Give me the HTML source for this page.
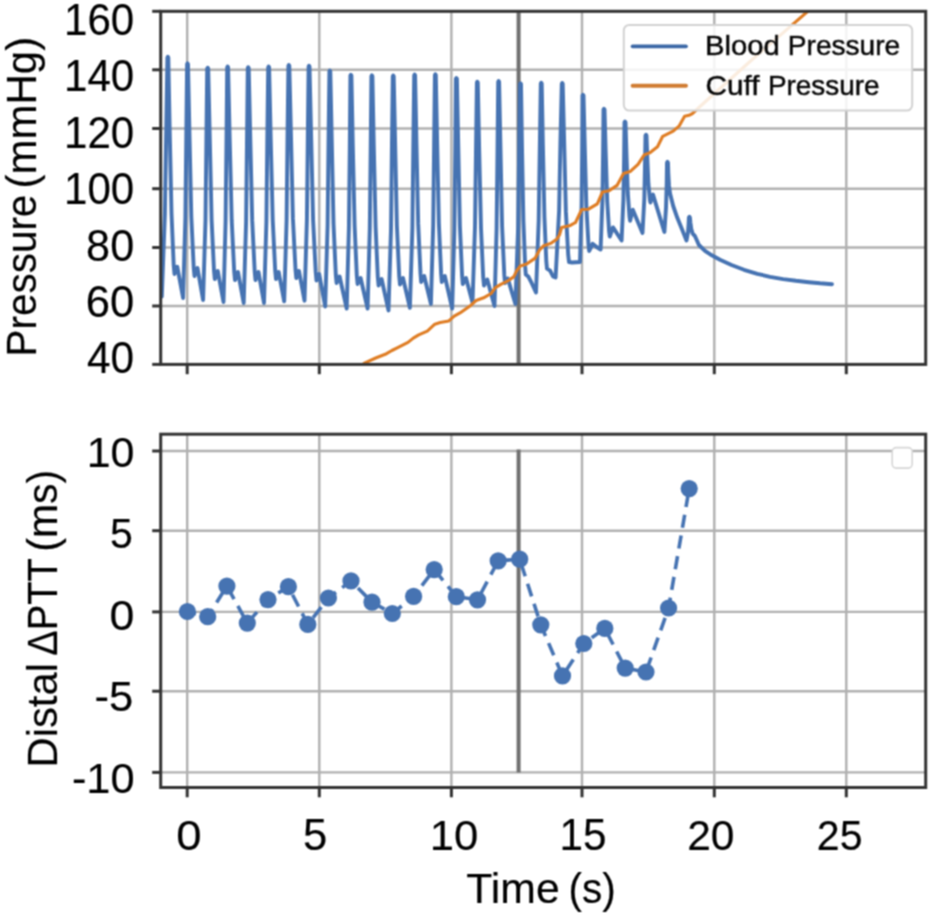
<!DOCTYPE html>
<html><head><meta charset="utf-8"><style>
html,body{margin:0;padding:0;background:#fff;width:931px;height:915px;overflow:hidden}
svg{display:block}
text{font-family:"Liberation Sans",sans-serif;fill:#000}
</style></head><body>
<svg width="931" height="915" viewBox="0 0 931 915">
<rect width="931" height="915" fill="#fff"/>
<defs>
<clipPath id="c1"><rect x="160.7" y="11.3" width="765.0" height="353.1"/></clipPath>
<clipPath id="c2"><rect x="160.7" y="434.2" width="765.0" height="353.3"/></clipPath>
<filter id="bl" x="0" y="0" width="931" height="915" filterUnits="userSpaceOnUse" color-interpolation-filters="sRGB"><feConvolveMatrix order="3" kernelMatrix="1 2 1 2 4 2 1 2 1" divisor="16" edgeMode="duplicate"/></filter>
</defs>
<g filter="url(#bl)">
<rect width="931" height="915" fill="#fff"/>
<g stroke="#b0b0b0" stroke-width="2.4"><line x1="187.2" y1="11.3" x2="187.2" y2="364.4"/><line x1="187.2" y1="434.2" x2="187.2" y2="787.5"/><line x1="319.3" y1="11.3" x2="319.3" y2="364.4"/><line x1="319.3" y1="434.2" x2="319.3" y2="787.5"/><line x1="451.4" y1="11.3" x2="451.4" y2="364.4"/><line x1="451.4" y1="434.2" x2="451.4" y2="787.5"/><line x1="582.0" y1="11.3" x2="582.0" y2="364.4"/><line x1="582.0" y1="434.2" x2="582.0" y2="787.5"/><line x1="714.3" y1="11.3" x2="714.3" y2="364.4"/><line x1="714.3" y1="434.2" x2="714.3" y2="787.5"/><line x1="846.3" y1="11.3" x2="846.3" y2="364.4"/><line x1="846.3" y1="434.2" x2="846.3" y2="787.5"/><line x1="160.7" y1="364.4" x2="925.7" y2="364.4"/><line x1="160.7" y1="306.0" x2="925.7" y2="306.0"/><line x1="160.7" y1="247.5" x2="925.7" y2="247.5"/><line x1="160.7" y1="188.7" x2="925.7" y2="188.7"/><line x1="160.7" y1="128.5" x2="925.7" y2="128.5"/><line x1="160.7" y1="69.8" x2="925.7" y2="69.8"/><line x1="160.7" y1="11.3" x2="925.7" y2="11.3"/><line x1="160.7" y1="772.4" x2="925.7" y2="772.4"/><line x1="160.7" y1="691.2" x2="925.7" y2="691.2"/><line x1="160.7" y1="611.9" x2="925.7" y2="611.9"/><line x1="160.7" y1="530.7" x2="925.7" y2="530.7"/><line x1="160.7" y1="451.0" x2="925.7" y2="451.0"/></g>
<line x1="518.6" y1="11.3" x2="518.6" y2="364.4" stroke="#707070" stroke-width="4.0"/>
<line x1="518.6" y1="449.4" x2="518.6" y2="772.4" stroke="#707070" stroke-width="4.0"/>
<g clip-path="url(#c1)" fill="none" stroke-linejoin="round" stroke-linecap="round"><polyline points="161.8,296.5 164.9,214.0 166.2,131.1 167.4,57.6 167.8,56.8 168.3,57.6 169.7,130.6 171.5,213.2 173.7,265.3 174.5,274.0 177.3,266.8 183.1,298.0 185.4,217.3 186.3,136.1 187.1,64.2 187.5,63.4 188.0,64.2 189.5,135.7 191.3,216.5 193.7,267.5 194.5,276.0 197.5,268.0 203.1,300.0 205.5,220.1 206.4,139.7 207.2,68.5 207.7,67.7 208.2,68.5 209.8,139.5 211.6,219.8 214.0,270.5 214.8,279.0 217.8,271.0 223.5,302.0 225.6,221.0 226.5,139.6 227.2,67.4 227.6,66.6 228.1,67.4 229.7,139.2 231.7,220.2 234.2,271.5 235.0,280.0 238.0,272.0 243.7,303.0 246.1,221.9 247.0,140.3 247.8,68.0 248.2,67.2 248.7,68.0 250.3,139.6 252.2,220.4 254.7,271.5 255.5,280.0 258.5,272.0 264.0,303.0 266.4,221.7 267.3,139.9 268.2,67.4 268.6,66.6 269.1,67.4 270.7,138.8 272.7,219.5 275.2,270.5 276.0,279.0 278.7,272.0 284.2,301.3 286.6,220.0 287.5,138.3 288.4,65.8 288.8,65.0 289.3,65.8 291.0,137.4 292.9,218.4 295.5,269.5 296.3,278.0 299.0,271.0 304.5,300.7 306.9,219.9 307.8,138.6 308.6,66.6 309.0,65.8 309.5,66.6 311.2,138.8 313.1,220.4 315.7,271.9 316.5,280.5 319.2,274.0 325.2,306.5 327.6,225.3 328.5,143.7 329.4,71.3 329.8,70.5 330.3,71.3 331.8,142.8 333.5,223.5 335.8,274.5 336.6,283.0 339.6,276.5 346.7,308.5 348.9,228.1 349.8,147.2 350.4,75.6 350.9,74.8 351.4,75.6 352.8,145.9 354.6,225.4 356.8,275.6 357.6,284.0 360.6,278.0 367.6,308.5 369.8,228.3 370.7,147.7 371.4,76.2 371.9,75.4 372.4,76.2 373.8,146.8 375.6,226.7 377.8,277.1 378.6,285.5 381.6,279.0 388.5,310.4 391.0,229.6 391.9,148.4 392.8,76.4 393.2,75.6 393.7,76.4 395.2,146.6 396.9,226.0 399.2,276.1 400.0,284.5 403.0,278.0 409.9,307.8 412.4,227.5 413.3,146.8 414.2,75.3 414.6,74.5 415.1,75.3 416.5,145.1 418.2,223.9 420.5,273.7 421.2,282.0 424.2,276.0 430.9,303.9 433.2,224.9 434.1,145.5 434.9,75.1 435.3,74.3 435.8,75.1 437.2,144.9 438.9,223.8 441.1,273.7 441.8,282.0 444.8,276.0 452.2,308.5 454.4,229.2 455.3,149.5 455.9,78.9 456.4,78.1 456.9,78.9 458.3,148.1 459.9,226.3 462.1,275.8 462.8,284.0 466.0,278.0 472.5,302.5 475.0,226.5 476.0,150.1 476.9,82.5 477.3,81.7 477.8,82.5 479.2,151.0 481.0,228.4 483.2,277.3 484.0,285.5 487.3,279.5 494.5,306.0 496.6,228.6 497.5,150.8 498.2,81.9 498.6,81.1 499.1,81.9 500.5,149.7 502.1,226.5 504.3,274.9 505.0,283.0 507.8,278.5 515.4,304.0 518.1,228.1 519.1,151.7 520.0,84.1 520.5,83.3 521.0,84.1 522.0,148.3 523.4,221.0 525.2,266.9 525.8,274.5 528.5,276.8 530.8,281.3 536.0,292.5 538.7,220.4 539.8,147.8 540.8,83.6 541.2,82.8 541.7,83.6 542.9,146.0 544.4,216.6 546.3,261.3 547.0,268.7 550.1,270.6 553.0,276.4 555.6,277.5 559.1,210.6 560.4,143.3 561.8,83.8 562.2,83.0 562.7,83.8 564.2,143.9 565.9,211.9 568.2,254.8 569.0,262.0 572.0,262.5 580.0,262.0 581.6,204.5 582.2,146.6 582.5,95.6 583.0,94.8 583.5,95.6 584.8,147.9 586.4,207.3 588.5,244.8 589.2,251.0 592.6,243.8 596.6,247.0 600.6,249.5 602.4,201.1 603.1,152.4 603.5,109.6 604.0,108.8 604.5,109.6 605.7,152.3 607.2,200.8 609.1,231.5 609.8,236.6 613.0,227.4 621.6,240.5 623.4,199.6 624.1,158.5 624.5,122.4 625.0,121.6 625.5,122.4 626.5,155.3 627.8,193.0 629.5,216.8 630.1,220.8 632.8,209.7 642.5,233.0 644.3,199.2 645.0,165.2 645.5,135.5 646.0,134.7 646.5,135.5 647.3,157.8 648.4,183.5 649.9,199.8 650.4,202.5 653.0,194.6 664.4,232.0 666.0,207.9 666.7,183.6 667.0,162.7 667.5,161.9 668.0,162.7 668.3,173.0 669.0,185.4 670.0,193.2 670.3,194.5 673.2,206.0 677.2,217.6 682.1,229.4 686.5,240.5 688.0,232.3 688.6,224.1 688.9,217.5 689.4,216.7 689.9,217.5 690.4,222.5 691.3,229.0 692.5,233.1 692.9,233.8 694.8,235.8 696.5,239.5 698.9,245.0 705.0,250.8 711.8,255.3 720.0,259.8 731.5,265.0 744.0,269.8 757.3,273.8 770.0,276.8 783.1,279.1 796.0,280.8 808.9,282.2 820.0,283.3 832.0,284.2" stroke="#4673b2" stroke-width="3.9"/><polyline points="361.5,365.5 365.0,362.8 375.7,358.0 386.5,353.7 391.9,350.5 397.2,347.8 408.0,342.4 413.3,338.1 418.7,334.9 427.3,331.1 434.8,324.2 440.2,322.6 448.8,320.9 454.2,316.1 460.0,312.9 470.7,305.4 476.1,300.5 483.6,297.8 491.1,293.5 495.4,287.6 500.8,284.4 507.3,281.2 513.7,276.9 516.9,270.4 520.2,266.1 526.6,264.0 535.2,258.1 539.5,250.0 543.8,245.7 551.3,243.1 556.7,239.3 559.4,235.0 561.6,227.5 570.3,225.4 575.5,222.5 581.7,209.5 588.1,209.3 597.3,203.8 602.5,192.0 609.1,190.7 617.0,185.4 623.5,173.6 630.1,171.6 638.0,164.4 644.4,154.7 649.6,152.9 657.5,146.8 662.7,136.3 666.2,134.6 673.2,131.1 679.3,125.8 684.6,116.2 689.0,115.3 692.4,113.6 700.0,106.5 750.0,61.5 807.8,11.3" stroke="#df7d24" stroke-width="3.1"/></g>
<rect x="623.8" y="24.9" width="288.4" height="85.7" rx="5.5" ry="5.5" fill="#fff" fill-opacity="0.85" stroke="#d2d2d2" stroke-width="2"/>
<line x1="632.6" y1="46.3" x2="686.0" y2="46.3" stroke="#3c68a6" stroke-width="3.7" stroke-linecap="round"/>
<line x1="632.6" y1="85.7" x2="686.0" y2="85.7" stroke="#d07c32" stroke-width="3.9" stroke-linecap="round"/>
<g clip-path="url(#c2)"><polyline points="187.4,611.5 207.7,616.7 226.9,586.1 247.3,623.1 268.0,599.6 288.4,586.7 307.8,624.4 328.4,598.0 351.0,580.9 372.0,602.2 392.3,613.5 413.6,596.4 434.2,569.6 456.3,596.7 477.5,599.8 498.2,560.8 519.7,559.2 540.8,624.8 562.5,675.9 583.8,643.5 604.8,628.4 625.2,668.1 646.0,672.0 668.6,608.0 689.2,488.6" fill="none" stroke="#4673b2" stroke-width="3.6" stroke-dasharray="13.2 7.82" stroke-dashoffset="4.32"/><circle cx="187.4" cy="611.5" r="8.6" fill="#4673b2"/><circle cx="207.7" cy="616.7" r="8.6" fill="#4673b2"/><circle cx="226.9" cy="586.1" r="8.6" fill="#4673b2"/><circle cx="247.3" cy="623.1" r="8.6" fill="#4673b2"/><circle cx="268.0" cy="599.6" r="8.6" fill="#4673b2"/><circle cx="288.4" cy="586.7" r="8.6" fill="#4673b2"/><circle cx="307.8" cy="624.4" r="8.6" fill="#4673b2"/><circle cx="328.4" cy="598.0" r="8.6" fill="#4673b2"/><circle cx="351.0" cy="580.9" r="8.6" fill="#4673b2"/><circle cx="372.0" cy="602.2" r="8.6" fill="#4673b2"/><circle cx="392.3" cy="613.5" r="8.6" fill="#4673b2"/><circle cx="413.6" cy="596.4" r="8.6" fill="#4673b2"/><circle cx="434.2" cy="569.6" r="8.6" fill="#4673b2"/><circle cx="456.3" cy="596.7" r="8.6" fill="#4673b2"/><circle cx="477.5" cy="599.8" r="8.6" fill="#4673b2"/><circle cx="498.2" cy="560.8" r="8.6" fill="#4673b2"/><circle cx="519.7" cy="559.2" r="8.6" fill="#4673b2"/><circle cx="540.8" cy="624.8" r="8.6" fill="#4673b2"/><circle cx="562.5" cy="675.9" r="8.6" fill="#4673b2"/><circle cx="583.8" cy="643.5" r="8.6" fill="#4673b2"/><circle cx="604.8" cy="628.4" r="8.6" fill="#4673b2"/><circle cx="625.2" cy="668.1" r="8.6" fill="#4673b2"/><circle cx="646.0" cy="672.0" r="8.6" fill="#4673b2"/><circle cx="668.6" cy="608.0" r="8.6" fill="#4673b2"/><circle cx="689.2" cy="488.6" r="8.6" fill="#4673b2"/></g>
<rect x="892.2" y="447.6" width="20" height="20.5" rx="4" ry="4" fill="#fff" stroke="#d6d6d6" stroke-width="1.6"/>
<g stroke="#333333" stroke-width="3.0" fill="none"><rect x="160.7" y="11.3" width="765.0" height="353.1" fill="none"/><line x1="187.2" y1="364.4" x2="187.2" y2="374.2"/><line x1="319.3" y1="364.4" x2="319.3" y2="374.2"/><line x1="451.4" y1="364.4" x2="451.4" y2="374.2"/><line x1="582.0" y1="364.4" x2="582.0" y2="374.2"/><line x1="714.3" y1="364.4" x2="714.3" y2="374.2"/><line x1="846.3" y1="364.4" x2="846.3" y2="374.2"/><rect x="160.7" y="434.2" width="765.0" height="353.3" fill="none"/><line x1="187.2" y1="787.5" x2="187.2" y2="797.3"/><line x1="319.3" y1="787.5" x2="319.3" y2="797.3"/><line x1="451.4" y1="787.5" x2="451.4" y2="797.3"/><line x1="582.0" y1="787.5" x2="582.0" y2="797.3"/><line x1="714.3" y1="787.5" x2="714.3" y2="797.3"/><line x1="846.3" y1="787.5" x2="846.3" y2="797.3"/><line x1="152.2" y1="364.4" x2="160.7" y2="364.4"/><line x1="152.2" y1="306.0" x2="160.7" y2="306.0"/><line x1="152.2" y1="247.5" x2="160.7" y2="247.5"/><line x1="152.2" y1="188.7" x2="160.7" y2="188.7"/><line x1="152.2" y1="128.5" x2="160.7" y2="128.5"/><line x1="152.2" y1="69.8" x2="160.7" y2="69.8"/><line x1="152.2" y1="11.3" x2="160.7" y2="11.3"/><line x1="152.2" y1="772.4" x2="160.7" y2="772.4"/><line x1="152.2" y1="691.2" x2="160.7" y2="691.2"/><line x1="152.2" y1="611.9" x2="160.7" y2="611.9"/><line x1="152.2" y1="530.7" x2="160.7" y2="530.7"/><line x1="152.2" y1="451.0" x2="160.7" y2="451.0"/></g>
<text transform="translate(64.00,35.10) scale(0.9332,1)" font-size="45.07" fill="#000" stroke="#000" stroke-width="0.15">160</text>
<text transform="translate(64.00,91.45) scale(0.9332,1)" font-size="45.07" fill="#000" stroke="#000" stroke-width="0.15">140</text>
<text transform="translate(64.00,147.80) scale(0.9332,1)" font-size="45.07" fill="#000" stroke="#000" stroke-width="0.15">120</text>
<text transform="translate(64.00,204.15) scale(0.9332,1)" font-size="45.07" fill="#000" stroke="#000" stroke-width="0.15">100</text>
<text transform="translate(86.12,260.50) scale(0.9650,1)" font-size="44.76" fill="#000" stroke="#000" stroke-width="0.15">80</text>
<text transform="translate(85.67,316.85) scale(0.9676,1)" font-size="45.07" fill="#000" stroke="#000" stroke-width="0.15">60</text>
<text transform="translate(87.00,373.20) scale(0.9401,1)" font-size="45.07" fill="#000" stroke="#000" stroke-width="0.15">40</text>
<text transform="translate(86.63,466.82) scale(1.0043,1)" font-size="42.82" fill="#000" stroke="#000" stroke-width="0.15">10</text>
<text transform="translate(110.11,547.92) scale(0.9547,1)" font-size="43.00" fill="#000" stroke="#000" stroke-width="0.15">5</text>
<text transform="translate(109.58,630.12) scale(1.0348,1)" font-size="43.24" fill="#000" stroke="#000" stroke-width="0.15">0</text>
<text transform="translate(94.61,710.92) scale(1.0068,1)" font-size="43.29" fill="#000" stroke="#000" stroke-width="0.15">-5</text>
<text transform="translate(71.91,792.82) scale(1.0143,1)" font-size="42.82" fill="#000" stroke="#000" stroke-width="0.15">-10</text>
<text transform="translate(176.36,849.72) scale(1.0538,1)" font-size="43.24" fill="#000" stroke="#000" stroke-width="0.15">0</text>
<text transform="translate(302.91,849.51) scale(1.0002,1)" font-size="43.57" fill="#000" stroke="#000" stroke-width="0.15">5</text>
<text transform="translate(429.67,849.72) scale(1.0107,1)" font-size="43.24" fill="#000" stroke="#000" stroke-width="0.15">10</text>
<text transform="translate(559.38,849.51) scale(0.9711,1)" font-size="43.57" fill="#000" stroke="#000" stroke-width="0.15">15</text>
<text transform="translate(687.22,849.72) scale(0.9837,1)" font-size="43.24" fill="#000" stroke="#000" stroke-width="0.15">20</text>
<text transform="translate(816.79,849.52) scale(0.9585,1)" font-size="42.96" fill="#000" stroke="#000" stroke-width="0.15">25</text>
<text transform="translate(466.30,902.95) scale(1.0172,1)" font-size="42.01" fill="#000" stroke="#000" stroke-width="0.15">Time</text>
<text transform="translate(568.42,902.95) scale(0.9657,1)" font-size="42.01" fill="#000" stroke="#000" stroke-width="0.15">(s)</text>
<text transform="translate(35.65,356.49) rotate(-90) scale(0.9595,1)" font-size="42.17" fill="#000" stroke="#000" stroke-width="0.15">Pressure</text>
<text transform="translate(35.65,188.57) rotate(-90) scale(0.9967,1)" font-size="42.17" fill="#000" stroke="#000" stroke-width="0.15">(mmHg)</text>
<text transform="translate(57.15,767.60) rotate(-90) scale(0.9826,1)" font-size="42.61" fill="#000" stroke="#000" stroke-width="0.15">Distal</text>
<text transform="translate(57.15,655.69) rotate(-90) scale(0.8938,1)" font-size="42.61" fill="#000" stroke="#000" stroke-width="0.15">ΔPTT</text>
<text transform="translate(57.15,551.71) rotate(-90) scale(0.9625,1)" font-size="42.61" fill="#000" stroke="#000" stroke-width="0.15">(ms)</text>
<text transform="translate(705.00,55.48) scale(1.0316,1)" font-size="28.34" fill="#262626" stroke="#262626" stroke-width="0.55">Blood</text>
<text transform="translate(787.78,55.48) scale(0.9918,1)" font-size="28.34" fill="#262626" stroke="#262626" stroke-width="0.55">Pressure</text>
<text transform="translate(705.46,94.98) scale(1.0466,1)" font-size="28.48" fill="#262626" stroke="#262626" stroke-width="0.55">Cuff</text>
<text transform="translate(767.89,94.98) scale(0.9809,1)" font-size="28.48" fill="#262626" stroke="#262626" stroke-width="0.55">Pressure</text>
</g></svg>
</body></html>
